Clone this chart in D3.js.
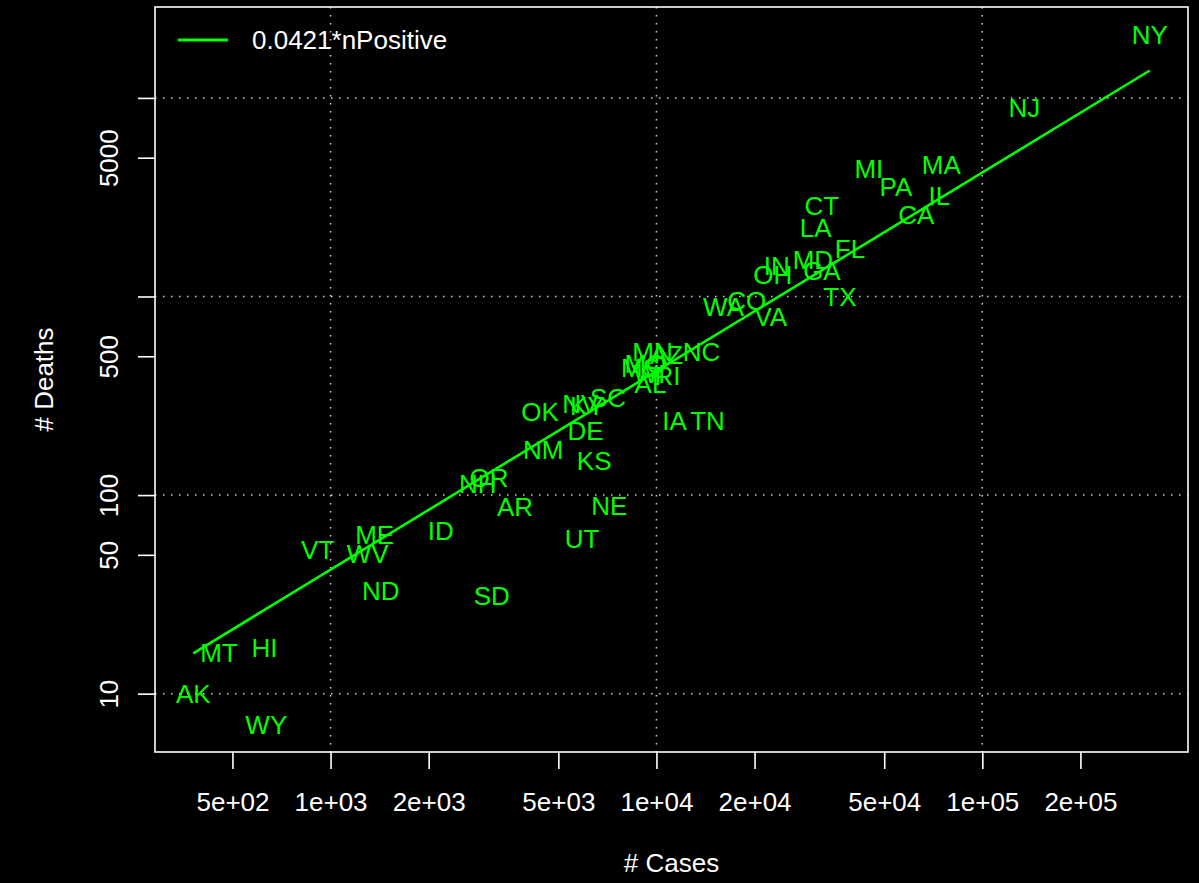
<!DOCTYPE html>
<html>
<head>
<meta charset="utf-8">
<script src="https://cdn.jsdelivr.net/npm/d3@7"></script>
<style>
  body { margin: 0; background: #000; }
  text { font-family: "Liberation Sans", Arial, Helvetica, sans-serif; }
</style>
</head>
<body>
<svg id="plot" width="1199" height="883"></svg>
<script>
// state data
var states = ["NY", "NJ", "MA", "IL", "CA", "PA", "MI", "FL", "TX", "CT",
    "GA", "LA", "MD", "IN", "OH", "VA", "CO", "WA", "TN", "NC",
    "IA", "RI", "AZ", "MN", "AL", "WI", "MO", "MS", "SC", "NE",
    "KS", "KY", "DE", "UT", "NV", "NM", "OK", "AR", "SD", "OR",
    "NH", "ID", "ND", "ME", "WV", "VT", "WY", "HI", "MT", "AK"];

var cases = [326400, 134600, 74800, 73800, 62700, 54300, 44870, 39260, 36560, 32200,
    32200, 30800, 30200, 23400, 22750, 22440, 18920, 16070, 14350, 13740,
    11360, 10820, 10740, 9730, 9590, 9510, 9250, 8930, 7100, 7165,
    6440, 6137, 6055, 5915, 5835, 4490, 4395, 3680, 3125, 3062,
    2830, 2180, 1425, 1366, 1300, 912, 635, 627, 455, 379];

var deaths = [20840, 8930, 4613, 3222, 2583, 3573, 4405, 1734, 998, 2870,
    1349, 2223, 1535, 1429, 1289, 792, 953, 889, 237, 527,
    237, 399, 510, 527, 364, 409, 459, 438, 310, 88,
    149, 282, 211, 60, 289, 169, 263, 87, 31, 122,
    114, 66, 33, 63, 51, 53, 7, 17, 16, 10];

var slope = 0.0421;
var legendLabel = "0.0421*nPositive";

var xTicks = [500, 1000, 2000, 5000, 10000, 20000, 50000, 100000, 200000];
var xTickLabels = ["5e+02", "1e+03", "2e+03", "5e+03", "1e+04", "2e+04", "5e+04", "1e+05", "2e+05"];
var yTicks = [10, 50, 100, 500, 1000, 5000, 10000];
var yTickLabels = ["10", "50", "100", "500", "", "5000", ""];
var gridX = [1000, 10000, 100000];
var gridY = [10, 100, 1000, 10000];

var svg = d3.select("#plot"),
    box = {left: 155, right: 1188, top: 7, bottom: 752},
    green = "#00ff00",
    fontSize = 26;

svg.append("rect").attr("width", 1199).attr("height", 883).attr("fill", "#000");

// R style: pad the log range by 4% on each side
function padLog(ext) {
    var a = Math.log10(ext[0]), b = Math.log10(ext[1]), p = (b - a) * 0.04;
    return [Math.pow(10, a - p), Math.pow(10, b + p)];
}

var x = d3.scaleLog().domain(padLog(d3.extent(cases))).range([box.left, box.right]),
    y = d3.scaleLog().domain(padLog(d3.extent(deaths))).range([box.bottom, box.top]);

// dotted grid at the decades
svg.append("g").selectAll("line")
    .data(gridX)
    .enter().append("line")
    .attr("x1", function (d) { return x(d); })
    .attr("x2", function (d) { return x(d); })
    .attr("y1", box.top)
    .attr("y2", box.bottom)
    .attr("stroke", "#d3d3d3")
    .attr("stroke-width", 1.5)
    .attr("stroke-dasharray", "1.5,6.5");

svg.append("g").selectAll("line")
    .data(gridY)
    .enter().append("line")
    .attr("x1", box.left)
    .attr("x2", box.right)
    .attr("y1", function (d) { return y(d); })
    .attr("y2", function (d) { return y(d); })
    .attr("stroke", "#d3d3d3")
    .attr("stroke-width", 1.5)
    .attr("stroke-dasharray", "1.5,6.5");

// fitted line through the case range
var lineExt = d3.extent(cases);
var line = d3.line()
    .x(function (d) { return x(d); })
    .y(function (d) { return y(slope * d); });

svg.append("path")
    .datum(lineExt)
    .attr("d", line)
    .attr("fill", "none")
    .attr("stroke", green)
    .attr("stroke-width", 2.6);

// state labels at the points
svg.append("g").selectAll("text")
    .data(states)
    .enter().append("text")
    .attr("x", function (d, i) { return x(cases[i]); })
    .attr("y", function (d, i) { return y(deaths[i]); })
    .attr("dy", "0.36em")
    .attr("text-anchor", "middle")
    .attr("fill", green)
    .style("font-size", fontSize + "px")
    .text(function (d) { return d; });

// axes
var xAxis = svg.append("g")
    .attr("transform", "translate(0," + box.bottom + ")")
    .call(d3.axisBottom(x).tickValues(xTicks)
        .tickFormat(function (d, i) { return xTickLabels[i]; })
        .tickSize(17));
xAxis.select(".domain").remove();
xAxis.selectAll("line").attr("stroke", "#fff").attr("stroke-width", 1.6);
xAxis.selectAll("text")
    .attr("y", 50)
    .attr("dy", "0.36em")
    .attr("fill", "#fff")
    .style("font-size", fontSize + "px")
    .style("font-family", null);

var yAxis = svg.append("g")
    .attr("transform", "translate(" + box.left + ",0)")
    .call(d3.axisLeft(y).tickValues(yTicks)
        .tickFormat(function (d, i) { return yTickLabels[i]; })
        .tickSize(17));
yAxis.select(".domain").remove();
yAxis.selectAll("line").attr("stroke", "#fff").attr("stroke-width", 1.6);
yAxis.selectAll("text")
    .attr("x", 0)
    .attr("y", 0)
    .attr("dy", "0.36em")
    .attr("transform", "translate(-46,0) rotate(-90)")
    .attr("text-anchor", "middle")
    .attr("fill", "#fff")
    .style("font-size", fontSize + "px")
    .style("font-family", null);

// plot box
svg.append("rect")
    .attr("x", box.left)
    .attr("y", box.top)
    .attr("width", box.right - box.left)
    .attr("height", box.bottom - box.top)
    .attr("fill", "none")
    .attr("stroke", "#fff")
    .attr("stroke-width", 1.6);

// axis titles
svg.append("text")
    .attr("x", (box.left + box.right) / 2)
    .attr("y", 863)
    .attr("dy", "0.36em")
    .attr("text-anchor", "middle")
    .attr("fill", "#fff")
    .style("font-size", fontSize + "px")
    .text("# Cases");

svg.append("text")
    .attr("transform", "translate(44," + (box.top + box.bottom) / 2 + ") rotate(-90)")
    .attr("dy", "0.36em")
    .attr("text-anchor", "middle")
    .attr("fill", "#fff")
    .style("font-size", fontSize + "px")
    .text("# Deaths");

// legend
svg.append("line")
    .attr("x1", 178).attr("x2", 228)
    .attr("y1", 40).attr("y2", 40)
    .attr("stroke", green)
    .attr("stroke-width", 3.2);

svg.append("text")
    .attr("x", 252)
    .attr("y", 40)
    .attr("dy", "0.36em")
    .attr("fill", "#fff")
    .style("font-size", fontSize + "px")
    .text(legendLabel);
</script>
</body>
</html>
